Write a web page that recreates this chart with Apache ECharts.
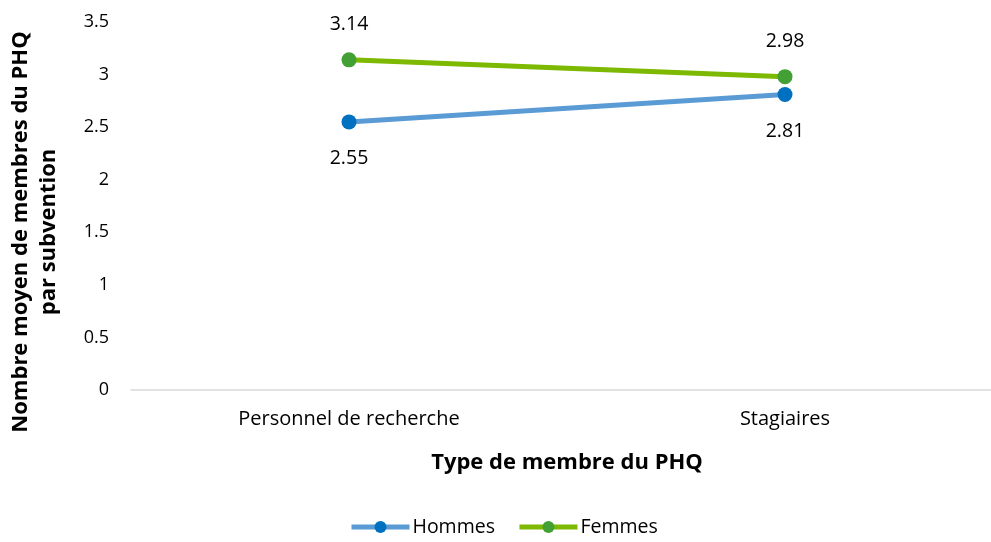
<!DOCTYPE html>
<html>
<head>
<meta charset="utf-8">
<script src="https://cdn.jsdelivr.net/npm/echarts@6/dist/echarts.min.js"></script>
<style>
  html, body { margin: 0; padding: 0; background: #fff; }
  #chartDiv { width: 991px; height: 542px; }
</style>
</head>
<body>
<div id="chartDiv"></div>
<script>
var myChart = echarts.init(document.getElementById('chartDiv'));

var categories = ['Personnel de recherche', 'Stagiaires'];
var hommes = [2.55, 2.81];
var femmes = [3.14, 2.98];

var font = '"Open Sans", Lato, sans-serif';

var option = {
    backgroundColor: '#fff',
    textStyle: {fontFamily: font},
    animation: false,
    legend: {
        bottom: 0,
        left: 344,
        itemWidth: 58,
        itemHeight: 15,
        itemGap: 22,
        lineStyle: {width: 5},
        textStyle: {fontFamily: font, fontSize: 19.5, color: '#000', padding: [0, 0, 0, -2]},
        data: ['Hommes', 'Femmes']
    },
    grid: {left: 131, top: 22, width: 872, height: 368, outerBoundsMode: 'none', containLabel: false},
    xAxis: {
        type: 'category',
        data: categories,
        name: 'Type de membre du PHQ',
        nameLocation: 'middle',
        nameGap: 62,
        nameTextStyle: {fontFamily: font, fontSize: 22, fontWeight: 'bold', color: '#000'},
        axisLine: {lineStyle: {color: '#d9d9d9', width: 1.5}},
        axisTick: {show: false},
        axisLabel: {margin: 19, fontFamily: font, fontSize: 20, color: '#000'}
    },
    yAxis: {
        type: 'value',
        min: 0,
        max: 3.5,
        interval: 0.5,
        name: 'Nombre moyen de membres du PHQ\npar subvention',
        nameLocation: 'middle',
        nameGap: 68,
        nameTextStyle: {
            fontFamily: font, fontSize: 22, fontWeight: 'bold', color: '#000',
            lineHeight: 28, padding: [0, 52, 0, 0]
        },
        axisLine: {show: false},
        axisTick: {show: false},
        splitLine: {show: false},
        axisLabel: {margin: 22, fontFamily: font, fontSize: 18, color: '#000'}
    },
    series: [
        {
            name: 'Hommes',
            type: 'line',
            data: hommes,
            symbol: 'circle',
            symbolSize: 15,
            lineStyle: {color: '#5b9bd5', width: 5},
            itemStyle: {color: '#0070c0'},
            label: {
                show: true,
                position: 'bottom',
                distance: 19,
                fontFamily: font,
                fontSize: 19.5,
                color: '#000'
            }
        },
        {
            name: 'Femmes',
            type: 'line',
            data: femmes,
            symbol: 'circle',
            symbolSize: 15,
            lineStyle: {color: '#7cb900', width: 5},
            itemStyle: {color: '#43a035'},
            label: {
                show: true,
                position: 'top',
                distance: 18,
                fontFamily: font,
                fontSize: 19.5,
                color: '#000'
            }
        }
    ]
};
myChart.setOption(option);
</script>
</body>
</html>
